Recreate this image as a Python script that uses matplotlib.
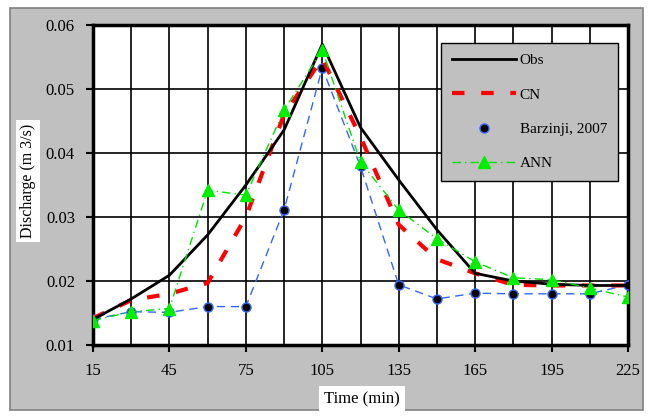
import matplotlib
matplotlib.use("Agg")
import matplotlib.pyplot as plt
from matplotlib.patches import Rectangle
from matplotlib.lines import Line2D
from matplotlib.ticker import MultipleLocator, FixedLocator

plt.rcParams['font.family'] = ['Liberation Serif', 'DejaVu Serif']

time_min = [15, 30, 45, 60, 75, 90, 105, 120, 135, 150, 165, 180, 195, 210, 225]
obs = [0.0140, 0.0172, 0.0209, 0.0272, 0.0350, 0.0436, 0.0570, 0.0440, 0.0358,
       0.0280, 0.0212, 0.0200, 0.0195, 0.0193, 0.0193]
cn = [0.0142, 0.0170, 0.0180, 0.0197, 0.0300, 0.0460, 0.0548, 0.0425, 0.0288,
      0.0234, 0.0212, 0.0194, 0.0193, 0.0193, 0.0193]
barzinji = [0.0140, 0.0152, 0.0151, 0.0160, 0.0160, 0.0311, 0.0533, 0.0379, 0.0194,
            0.0172, 0.0181, 0.0180, 0.0180, 0.0180, 0.0194]
ann = [0.0138, 0.0152, 0.0157, 0.0342, 0.0334, 0.0467, 0.0561, 0.0386, 0.0311,
       0.0266, 0.0230, 0.0205, 0.0202, 0.0189, 0.0175]

x_ticks = [15, 45, 75, 105, 135, 165, 195, 225]
y_ticks = [0.01, 0.02, 0.03, 0.04, 0.05, 0.06]
y_tick_labels = ["0.01", "0.02", "0.03", "0.04", "0.05", "0.06"]

fig = plt.figure(figsize=(6.48, 4.18), dpi=100)
fig.patch.set_facecolor('white')

# grey chart area with a thin frame
fig.patches.append(Rectangle((10 / 648, 1 - 410 / 418), 633 / 648, 402 / 418,
                             transform=fig.transFigure, facecolor='#c0c0c0',
                             edgecolor='#808080', linewidth=1.2, zorder=-5))

ax = fig.add_axes([93 / 648, 1 - 345 / 418, 535 / 648, 320 / 418])
ax.set_zorder(2)
ax.set_facecolor('white')

obs_line, = ax.plot(time_min, obs, color='black', linewidth=2.0, label='Obs', zorder=5)
cn_line, = ax.plot(time_min, cn, color='red', linewidth=3.0, linestyle=(0, (3, 4)),
                   label='CN', zorder=4)
bz_style = dict(marker='o', markersize=6.5, markerfacecolor='black',
                markeredgecolor='#3366ff', markeredgewidth=1.0)
ax.plot(time_min, barzinji, color='#3366ff', linewidth=1.0, linestyle=(0, (6, 4)),
        label='Barzinji, 2007', zorder=3, **bz_style)
ann_line, = ax.plot(time_min, ann, color='#00e000', linewidth=1.0,
                    linestyle=(0, (6, 3, 1, 3)), marker='^', markersize=8,
                    markerfacecolor='#00ee00', markeredgecolor='#00ee00',
                    label='ANN', zorder=6)

ax.set_xlim(15, 225)
ax.set_ylim(0.01, 0.06)
ax.xaxis.set_major_locator(FixedLocator(x_ticks))
ax.xaxis.set_minor_locator(MultipleLocator(15))
ax.set_xticklabels([str(t) for t in x_ticks])
ax.yaxis.set_major_locator(FixedLocator(y_ticks))
ax.set_yticklabels(y_tick_labels)

ax.grid(True, which='major', axis='y', color='black', linewidth=1.2)
ax.grid(True, which='both', axis='x', color='black', linewidth=1.2)
ax.set_axisbelow(True)
ax.tick_params(axis='both', which='major', direction='out', length=5, width=1.5,
               labelsize=12, colors='black', pad=8)
ax.tick_params(axis='x', which='minor', length=0)
for side in ax.spines.values():
    side.set_linewidth(2.5)
    side.set_color('black')

# Barzinji entry shows only its marker in the key
bz_key = Line2D([], [], linestyle='none', **bz_style)
leg = ax.legend([obs_line, cn_line, bz_key, ann_line],
                ['Obs', 'CN', 'Barzinji, 2007', 'ANN'],
                loc='upper right', bbox_to_anchor=(0.981, 0.944), fontsize=11,
                frameon=True, fancybox=False, facecolor='#c0c0c0', edgecolor='black',
                framealpha=1, labelspacing=1.35, handlelength=4.2, handletextpad=0.25,
                borderpad=0.7, borderaxespad=0)
leg.get_frame().set_linewidth(1.0)
leg.set_zorder(10)

fig.text(28 / 648, 1 - 181 / 418, 'Discharge (m 3/s)', rotation=90, ha='center',
         va='center', fontsize=11.5,
         bbox=dict(facecolor='white', edgecolor='none', pad=3))
fig.text(362 / 648, 1 - 399 / 418, 'Time (min)', ha='center', va='center', fontsize=12,
         bbox=dict(facecolor='white', edgecolor='none', pad=4))

fig.savefig('out.png', dpi=100, facecolor='white')
